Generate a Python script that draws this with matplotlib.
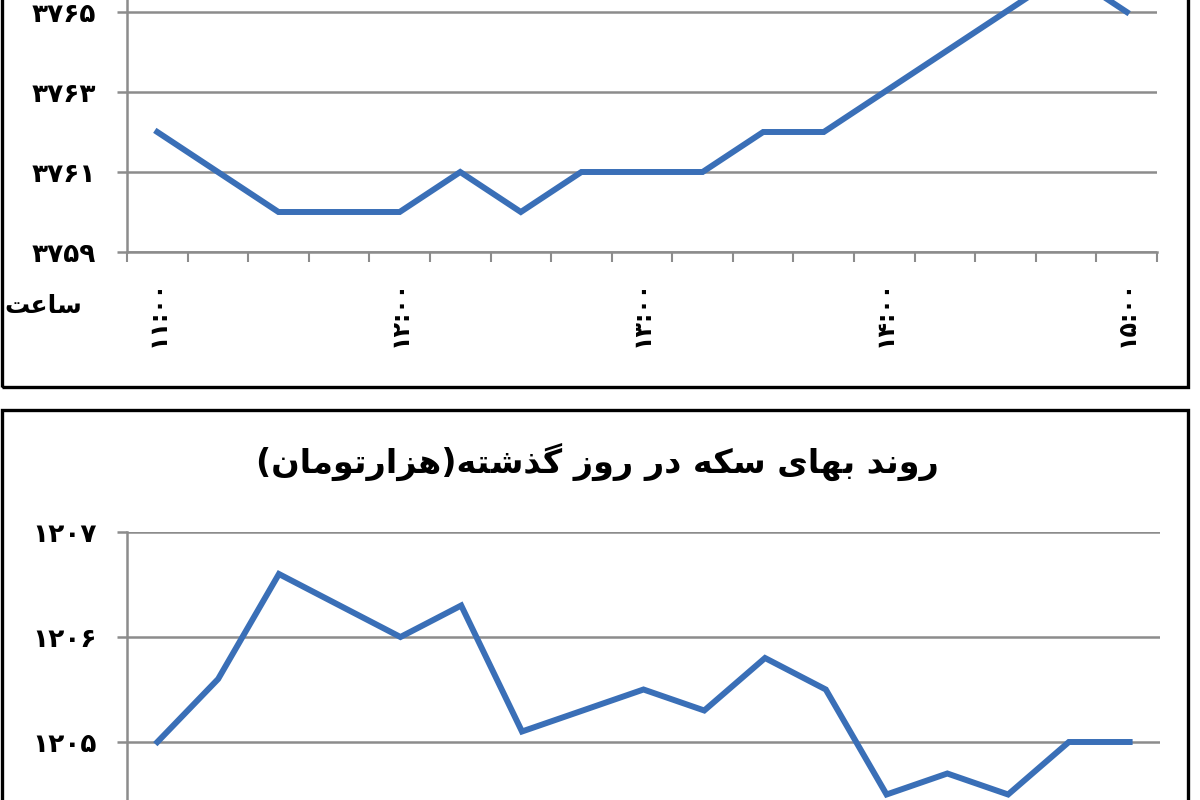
import matplotlib
matplotlib.use("Agg")
import matplotlib.pyplot as plt
from matplotlib.patches import Rectangle

# --- data ---
times = ["۱۱:۰۰", "۱۱:۱۵", "۱۱:۳۰", "۱۱:۴۵",
         "۱۲:۰۰", "۱۲:۱۵", "۱۲:۳۰", "۱۲:۴۵",
         "۱۳:۰۰", "۱۳:۱۵", "۱۳:۳۰", "۱۳:۴۵",
         "۱۴:۰۰", "۱۴:۱۵", "۱۴:۳۰", "۱۴:۴۵",
         "۱۵:۰۰"]
dollar_values = [3762, 3761, 3760, 3760, 3760, 3761, 3760, 3761, 3761,
                 3761, 3762, 3762, 3763, 3764, 3765, 3766, 3765]
coin_values = [1205.0, 1205.6, 1206.6, 1206.3, 1206.0, 1206.3, 1205.1, 1205.3, 1205.5,
               1205.3, 1205.8, 1205.5, 1204.5, 1204.7, 1204.5, 1205.0, 1205.0]
dollar_yticks = [3759, 3761, 3763, 3765]
coin_yticks = [1205, 1206, 1207]
label_every = 4

coin_title = "روند بهای سکه در روز گذشته(هزارتومان)"
hour_label = "ساعت"

LINE = "#3A6FB7"
GRID = "#8C8C8C"
FONT = ["DejaVu Sans"]

# minimal Persian shaping: (isolated, final, initial, medial)
FORMS = {
    "ا": ("\uFE8D", "\uFE8E", None, None),
    "ب": ("\uFE8F", "\uFE90", "\uFE91", "\uFE92"),
    "ت": ("\uFE95", "\uFE96", "\uFE97", "\uFE98"),
    "د": ("\uFEA9", "\uFEAA", None, None),
    "ذ": ("\uFEAB", "\uFEAC", None, None),
    "ر": ("\uFEAD", "\uFEAE", None, None),
    "ز": ("\uFEAF", "\uFEB0", None, None),
    "س": ("\uFEB1", "\uFEB2", "\uFEB3", "\uFEB4"),
    "ش": ("\uFEB5", "\uFEB6", "\uFEB7", "\uFEB8"),
    "ع": ("\uFEC9", "\uFECA", "\uFECB", "\uFECC"),
    "م": ("\uFEE1", "\uFEE2", "\uFEE3", "\uFEE4"),
    "ن": ("\uFEE5", "\uFEE6", "\uFEE7", "\uFEE8"),
    "ه": ("\uFEE9", "\uFEEA", "\uFEEB", "\uFEEC"),
    "و": ("\uFEED", "\uFEEE", None, None),
    "ک": ("\uFB8E", "\uFB8F", "\uFB90", "\uFB91"),
    "گ": ("\uFB92", "\uFB93", "\uFB94", "\uFB95"),
    "ی": ("\uFBFC", "\uFBFD", "\uFBFE", "\uFBFF"),
}
MIRROR = {"(": ")", ")": "("}


def shape(text):
    out = []
    for i, ch in enumerate(text):
        if ch not in FORMS:
            out.append(MIRROR.get(ch, ch))
            continue
        prev = text[i - 1] if i > 0 else ""
        nxt = text[i + 1] if i + 1 < len(text) else ""
        join_prev = prev in FORMS and FORMS[prev][2] is not None
        join_next = FORMS[ch][2] is not None and nxt in FORMS
        iso, fin, ini, med = FORMS[ch]
        if join_prev and join_next:
            out.append(med)
        elif join_prev:
            out.append(fin)
        elif join_next:
            out.append(ini)
        else:
            out.append(iso)
    return "".join(reversed(out))


def fa_digits(v):
    return str(v).translate(str.maketrans("0123456789", "۰۱۲۳۴۵۶۷۸۹"))


def style_axis(ax, yticks, ylim, show_xlabels=True):
    x = list(range(len(times)))
    ax.set_xlim(-0.5, len(times) - 0.5)
    ax.set_ylim(*ylim)
    ax.set_yticks(yticks)
    ax.set_yticklabels([fa_digits(v) for v in yticks], fontsize=19,
                       fontweight="bold", family=FONT)
    ax.grid(axis="y", color=GRID, lw=1.8)
    ax.set_axisbelow(True)
    for side in ("top", "right"):
        ax.spines[side].set_visible(False)
    for side in ("left", "bottom"):
        ax.spines[side].set_color(GRID)
        ax.spines[side].set_linewidth(1.8)
    ax.tick_params(axis="y", length=7, width=1.8, color=GRID, pad=15)
    ax.set_xticks([i - 0.5 for i in range(len(times) + 1)], minor=True)
    ax.tick_params(axis="x", which="minor", length=7, width=1.5, color=GRID)
    if show_xlabels:
        ax.set_xticks(x[::label_every])
        ax.tick_params(axis="x", which="major", length=0, pad=20)
        ax.set_xticklabels(times[::label_every], rotation=90, fontsize=17,
                           fontweight="bold", family=FONT)
    else:
        ax.set_xticks([])
    return x


fig = plt.figure(figsize=(12, 8), dpi=100)

# top panel (cropped at the figure top)
ax1 = fig.add_axes([127 / 1200, 0.685, 1030 / 1200, 0.40])
x = style_axis(ax1, dollar_yticks, (3759, 3767))
ax1.plot(x, dollar_values, color=LINE, lw=4.3, solid_joinstyle="miter", clip_on=False)
fig.text(43 / 1200, 1 - 306 / 800, shape(hour_label), ha="center", va="center",
         fontsize=18, fontweight="bold", family=FONT)

# bottom panel (cropped at the figure bottom)
ax2 = fig.add_axes([127 / 1200, -47 / 800, 1033 / 1200, 315 / 800])
x = style_axis(ax2, coin_yticks, (1204, 1207), show_xlabels=False)
ax2.plot(x, coin_values, color=LINE, lw=4.3, solid_joinstyle="miter")
fig.text(597 / 1200, 1 - 462 / 800, shape(coin_title), ha="center", va="center",
         fontsize=24, fontweight="bold", family=FONT)

# panel frames
fig.patches.append(Rectangle((2 / 1200, 1 - 387 / 800), 1186 / 1200, 0.6,
                             transform=fig.transFigure, fill=False, ec="black", lw=2.4))
fig.patches.append(Rectangle((2 / 1200, -0.1), 1186 / 1200, 0.1 + 1 - 410 / 800,
                             transform=fig.transFigure, fill=False, ec="black", lw=2.4))

fig.savefig("out.png", dpi=100)
